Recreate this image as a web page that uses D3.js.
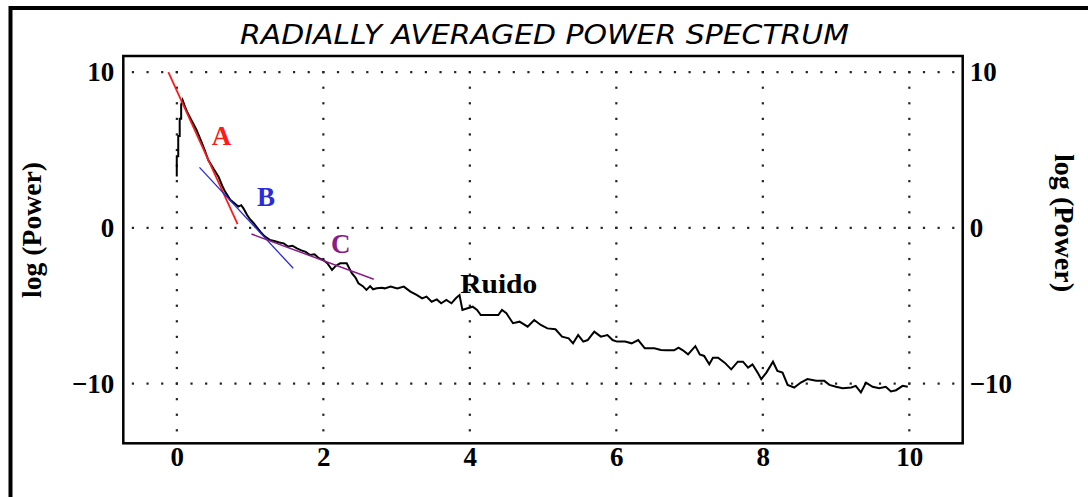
<!DOCTYPE html>
<meta charset="utf-8">
<style>
body { margin: 0; background: #fff; }
.frame { fill: none; stroke: #000; stroke-width: 2.5; }
.border { fill: none; stroke: #000; stroke-width: 4; }
.grid rect { fill: #222; }
.axis text { font-family: "Liberation Serif", serif; font-weight: bold; font-size: 27px; fill: #000; }
.axis path, .axis line { display: none; }
.spectrum { fill: none; stroke: #000; stroke-width: 2; stroke-linejoin: miter; }
.fit { fill: none; }
.lbl { font-family: "Liberation Serif", serif; font-weight: bold; font-size: 27px; }
.title { font-family: "DejaVu Sans", sans-serif; font-style: italic; font-weight: 200; font-size: 27px; }
</style>
<body>
<script src="https://d3js.org/d3.v7.min.js"></script>
<script>
var width = 1088
var height = 497

// radially averaged spectrum
var waveNumber = [0.00, 0.00, 0.02, 0.02, 0.04, 0.04, 0.06, 0.06, 0.08, 0.11, 0.14, 0.20, 0.27, 0.33, 0.38, 0.43, 0.50, 0.57,
    0.62, 0.66, 0.73, 0.78, 0.84, 0.88, 0.91, 0.96, 1.00, 1.05, 1.10, 1.14, 1.20, 1.27, 1.33, 1.40, 1.46, 1.52, 1.58,
    1.64, 1.70, 1.76, 1.82, 1.88, 1.94, 2.00, 2.06, 2.12, 2.17, 2.23, 2.32, 2.39, 2.44, 2.48, 2.54, 2.59, 2.64, 2.68,
    2.73, 2.80, 2.84, 2.92, 3.01, 3.10, 3.19, 3.28, 3.35, 3.41, 3.48, 3.55, 3.61, 3.68, 3.75, 3.81, 3.86, 3.90, 3.97,
    4.04, 4.10, 4.15, 4.26, 4.39, 4.44, 4.50, 4.59, 4.68, 4.79, 4.88, 4.97, 5.06, 5.17, 5.26, 5.35, 5.41, 5.48, 5.55,
    5.61, 5.70, 5.79, 5.88, 5.95, 6.01, 6.12, 6.21, 6.30, 6.39, 6.52, 6.61, 6.68, 6.79, 6.85, 6.91, 6.98, 7.08, 7.14,
    7.20, 7.27, 7.32, 7.39, 7.48, 7.57, 7.66, 7.73, 7.80, 7.86, 7.93, 7.98, 8.05, 8.14, 8.20, 8.27, 8.34, 8.43, 8.52,
    8.61, 8.73, 8.84, 8.91, 9.00, 9.09, 9.21, 9.27, 9.34, 9.41, 9.50, 9.59, 9.68, 9.75, 9.82, 9.91, 9.98]
var logPower = [3.3, 4.6, 4.6, 5.9, 5.9, 7.0, 7.0, 7.9, 8.2, 7.8, 7.46, 6.9, 6.28, 5.6, 5.0, 4.35, 3.8, 3.28,
    2.7, 2.32, 1.79, 1.6, 1.36, 1.45, 1.25, 0.82, 0.55, 0.29, 0.0, -0.25, -0.55, -0.78, -0.85, -0.95, -1.0, -1.2, -1.15,
    -1.32, -1.45, -1.55, -1.75, -1.7, -1.95, -2.07, -2.3, -2.71, -2.45, -2.28, -2.28, -2.92, -3.2, -3.56, -3.75, -3.99, -3.75, -3.95,
    -3.89, -3.85, -3.89, -3.78, -3.89, -3.78, -4.1, -4.32, -4.53, -4.42, -4.75, -4.6, -4.85, -4.64, -4.85, -4.53, -4.32, -5.28, -5.17,
    -5.07, -5.28, -5.6, -5.6, -5.6, -5.28, -5.49, -6.13, -6.03, -6.35, -5.92, -6.24, -6.46, -6.52, -6.99, -7.1, -7.42, -6.89, -7.31,
    -7.21, -6.67, -6.99, -6.89, -7.21, -7.31, -7.31, -7.42, -7.21, -7.74, -7.74, -7.85, -7.87, -7.87, -7.7, -7.87, -8.13, -7.6, -8.13,
    -8.23, -8.77, -8.34, -8.34, -8.66, -9.09, -8.6, -8.6, -8.98, -8.77, -9.3, -9.72, -9.3, -8.6, -9.19, -9.3, -10.09, -10.26, -9.94,
    -9.72, -9.83, -9.83, -10.09, -10.21, -10.3, -10.26, -10.15, -10.57, -9.94, -10.21, -10.3, -10.21, -10.51, -10.43, -10.15, -10.21]

// straight-line fits (end points)
var fitAx = [-0.115, 0.83], fitAy = [10.0, 0.24]
var fitBx = [0.31, 1.59], fitBy = [3.88, -2.6]
var fitCx = [1.02, 2.69], fitCy = [-0.4, -3.31]

var xTicks = [0, 2, 4, 6, 8, 10]
var yTicks = [-10, 0, 10]

var x = d3.scaleLinear().domain([-0.73, 10.73]).range([123.3, 962.7])
var y = d3.scaleLinear().domain([-13.84, 11.03]).range([443.3, 56])

var svg = d3.select('body').append('svg')
    .attr('width', width)
    .attr('height', height)

// outer window border (cut off right and bottom)
svg.append('rect')
    .attr('class', 'border')
    .attr('x', 10.5).attr('y', 8)
    .attr('width', 1200).attr('height', 600)

svg.append('text')
    .attr('class', 'title')
    .attr('x', 240).attr('y', 44)
    .attr('textLength', 609)
    .attr('lengthAdjust', 'spacingAndGlyphs')
    .text('RADIALLY AVERAGED POWER SPECTRUM')

// dotted grid
var grid = svg.append('g').attr('class', 'grid')
var hDots = []
yTicks.forEach(function (v) {
    d3.range(-3, 54).forEach(function (i) { hDots.push([i * 0.2, v]) })
})
var vDots = []
xTicks.forEach(function (v) {
    d3.range(-13, 11).forEach(function (j) { vDots.push([v, j]) })
})
grid.selectAll('rect')
    .data(hDots.concat(vDots))
    .enter().append('rect')
    .attr('x', function (d) { return x(d[0]) - 1 })
    .attr('y', function (d) { return y(d[1]) - 1 })
    .attr('width', 2.2)
    .attr('height', 2.2)

svg.append('rect')
    .attr('class', 'frame')
    .attr('x', x.range()[0]).attr('y', y.range()[1])
    .attr('width', x.range()[1] - x.range()[0])
    .attr('height', y.range()[0] - y.range()[1])

// axes
svg.append('g').attr('class', 'axis')
    .attr('transform', 'translate(' + x.range()[0] + ',0)')
    .call(d3.axisLeft(y).tickValues(yTicks).tickSize(0).tickPadding(9))
svg.append('g').attr('class', 'axis')
    .attr('transform', 'translate(' + x.range()[1] + ',0)')
    .call(d3.axisRight(y).tickValues(yTicks).tickSize(0).tickPadding(7))
svg.append('g').attr('class', 'axis')
    .attr('transform', 'translate(0,' + y.range()[0] + ')')
    .call(d3.axisBottom(x).tickValues(xTicks).tickSize(0).tickPadding(4))

svg.append('text')
    .attr('class', 'lbl')
    .attr('transform', 'translate(41,230) rotate(-90)')
    .attr('text-anchor', 'middle')
    .attr('textLength', 136)
    .attr('lengthAdjust', 'spacingAndGlyphs')
    .text('log (Power)')
svg.append('text')
    .attr('class', 'lbl')
    .attr('transform', 'translate(1055,223) rotate(90)')
    .attr('text-anchor', 'middle')
    .attr('textLength', 138)
    .attr('lengthAdjust', 'spacingAndGlyphs')
    .text('log (Power)')

// spectrum curve
var line = d3.line()
    .x(function (d) { return x(d[0]) })
    .y(function (d) { return y(d[1]) })

svg.append('path')
    .attr('class', 'spectrum')
    .attr('d', line(d3.zip(waveNumber, logPower)))

var fits = [
    { xs: fitAx, ys: fitAy, color: '#ff1a1a', w: 1.8, label: 'A', lx: 0.61, ly: 5.32 },
    { xs: fitBx, ys: fitBy, color: '#2b2bd9', w: 1.3, label: 'B', lx: 1.22, ly: 1.4 },
    { xs: fitCx, ys: fitCy, color: '#8b1a8b', w: 1.5, label: 'C', lx: 2.24, ly: -1.62 }
]

fits.forEach(function (f) {
    svg.append('path')
        .attr('class', 'fit')
        .attr('stroke', f.color)
        .attr('stroke-width', f.w)
        .attr('d', line(d3.zip(f.xs, f.ys)))
    svg.append('text')
        .attr('class', 'lbl')
        .attr('x', x(f.lx)).attr('y', y(f.ly))
        .attr('text-anchor', 'middle')
        .attr('fill', f.color)
        .text(f.label)
})

svg.append('text')
    .attr('class', 'lbl')
    .attr('x', x(3.87)).attr('y', y(-4.19))
    .attr('textLength', 77)
    .attr('lengthAdjust', 'spacingAndGlyphs')
    .text('Ruido')
</script>
</body>
